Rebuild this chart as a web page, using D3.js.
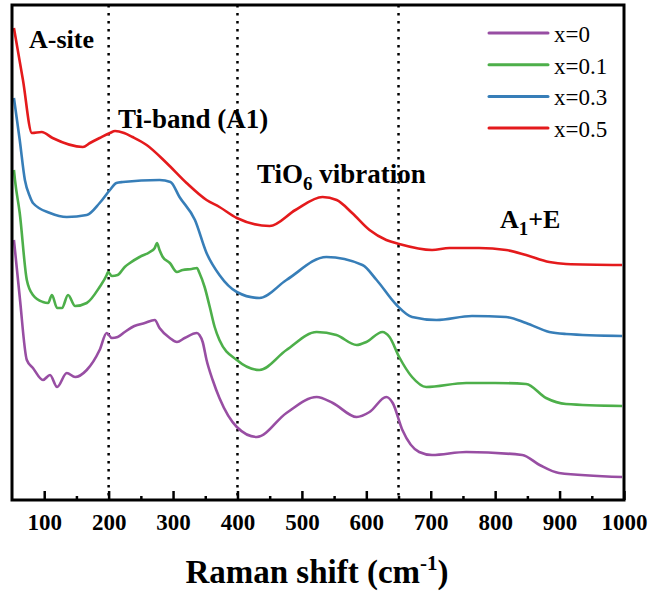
<!DOCTYPE html>
<html><head><meta charset="utf-8">
<script src="https://cdn.jsdelivr.net/npm/d3@7"></script>
<style>body{margin:0;background:#fff}svg{display:block}
text{font-family:"Liberation Serif","Times New Roman",Times,"DejaVu Serif",serif;}
</style>
</head><body>
<svg id="c" width="650" height="594"></svg>
<script>
// Data: Raman shift (cm-1) and intensity (a.u., offset stacked)
const wn0 = [53,62,73,82.5,98,109,120,135,148,166,186,197,205,214,225,240,256,271.6,279,295,306,318,337,341,346,352,361.5,372,399,430,476,523,548,585,605,631,641,656,682,702,755,842,869,899,997];
const int0 = [260,203,140,132,120,125,113,127,123,130,150,167,162,163,168,174,177,180,172,162,158,162,167,165,158,140,120,102,73,63,87,103,97,83,88,103,97,70,48,45,48,45,35,27,23];
const wn1 = [53,54.6,62,73,82.5,98,106,112,120,127.5,137,148,166,186,197,199,205,214,225,233,248,264,271.6,275,279,284,295,306,315,329,337,341,349,357,364.6,372,399,434,476,523,553.6,585,600,625,636,651,671,693,755,800,848,879,910,997];
const int1 = [330,320,287,220,205,198,197,205,192,192,205,194,197,213,225,228,224,225,233,237,243,248,252,257,250,243,237,228,230,231,232,227,213,193,173,160,140,130,150,168,165,155,158,168,163,143,123,113,117,117,116,102,96,94];
const wn3 = [53,62,70,78,82.5,109,135,166,186,202,212,222,279,296,310,334,352,372,399,434,476,538,594,616,647,671,709,764,817,848,884,910,997];
const int3 = [402,360,320,303,297,287,283,285,297,310,317,318,320,318,303,280,247,225,208,202,220,243,235,220,195,183,180,184,183,177,168,166,164];
const wn5 = [53,67,81,96,113,160,171,186,202,210,224,237,259,290,321,352,372,399,450,490,532,554,578,605,631,651,702,729,775,817,848,884,910,997];
const int5 = [472,420,367,368,362,353,357,362,367,369,367,363,355,337,317,300,293,282,274,290,303,300,287,270,260,256,250,252,252,250,245,238,236,235];

const seriesNames = ["x=0","x=0.1","x=0.3","x=0.5"];
const seriesColors = ["#984ea3","#4daf4a","#377eb8","#e41a1c"];
const xTicks = [100,200,300,400,500,600,700,800,900,1000];
const xMinorTicks = [150,250,350,450,550,650,750,850,950];
const markerLines = [200,400,650];

const series = [
  {name: seriesNames[0], color: seriesColors[0], wn: wn0, v: int0},
  {name: seriesNames[1], color: seriesColors[1], wn: wn1, v: int1},
  {name: seriesNames[2], color: seriesColors[2], wn: wn3, v: int3},
  {name: seriesNames[3], color: seriesColors[3], wn: wn5, v: int5}
];

const FONT = '"Liberation Serif","Times New Roman",Times,"DejaVu Serif",serif';
const svg = d3.select("#c");
const L = 12, T = 5, R = 624, B = 500;
const x = d3.scaleLinear().domain([50,1000]).range([L,R]);
const y = d3.scaleLinear().domain([0,495]).range([B,T]);

// dotted marker lines
svg.selectAll("line.mk").data(markerLines).join("line")
  .attr("x1", d=>x(d)).attr("x2", d=>x(d)).attr("y1", T).attr("y2", B)
  .attr("stroke","#000").attr("stroke-width",2.5).attr("stroke-dasharray","2.5,5.5");

// curves
const line = d3.line().x(d=>x(d[0])).y(d=>y(d[1])).curve(d3.curveMonotoneX);
svg.selectAll("path.s").data(series).join("path")
  .attr("fill","none").attr("stroke",d=>d.color).attr("stroke-width",2.6)
  .attr("stroke-linejoin","round")
  .attr("d", d=>line(d.wn.map((w,i)=>[w,d.v[i]])));

// axes
const ax = svg.append("g").attr("transform",`translate(0,${B})`)
  .call(d3.axisBottom(x).tickValues(xTicks).tickSize(-9).tickPadding(14).tickFormat(d3.format("d")));
ax.attr("font-family",null).attr("font-size",null);
ax.select(".domain").remove();
ax.selectAll(".tick line").attr("stroke-width",2.5);
ax.selectAll(".tick text").style("font-family",FONT).attr("font-weight","bold").attr("font-size",23).attr("fill","#000");
const axm = svg.append("g").attr("transform",`translate(0,${B})`)
  .call(d3.axisBottom(x).tickValues(xMinorTicks).tickSize(-4).tickFormat(""));
axm.select(".domain").remove();
axm.selectAll(".tick line").attr("stroke-width",2.5);

// frame
svg.append("rect").attr("x",L).attr("y",T).attr("width",R-L).attr("height",B-T)
  .attr("fill","none").attr("stroke","#000").attr("stroke-width",3);

// axis title
const tt = svg.append("text").attr("x",317).attr("y",583).attr("text-anchor","middle")
  .style("font-family",FONT).attr("font-weight","bold").attr("font-size",33);
tt.append("tspan").text("Raman shift (cm");
tt.append("tspan").attr("dy",-13).attr("font-size",21).text("-1");
tt.append("tspan").attr("dy",13).text(")");

// annotations
const ann = (tx,ty,fs) => svg.append("text").attr("x",tx).attr("y",ty)
  .style("font-family",FONT).attr("font-weight","bold").attr("font-size",fs).attr("fill","#000");
ann(29,48,26).text("A-site");
ann(118,128,27).text("Ti-band (A1)");
const t6 = ann(257,183,27);
t6.append("tspan").text("TiO");
t6.append("tspan").attr("dy",7).attr("font-size",19).text("6");
t6.append("tspan").attr("dy",-7).text(" vibration");
const ae = ann(500,228,26);
ae.append("tspan").text("A");
ae.append("tspan").attr("dy",7).attr("font-size",19).text("1");
ae.append("tspan").attr("dy",-7).text("+E");

// legend
const lg = svg.append("g");
series.forEach((s,i)=>{
  const ly = 33 + i*31.7;
  lg.append("line").attr("x1",489).attr("x2",548).attr("y1",ly).attr("y2",ly)
    .attr("stroke",s.color).attr("stroke-width",3).attr("stroke-linecap","round");
  lg.append("text").attr("x",554).attr("y",ly+9).text(s.name)
    .style("font-family",FONT).attr("font-size",23).attr("fill","#000");
});
</script>
</body></html>
